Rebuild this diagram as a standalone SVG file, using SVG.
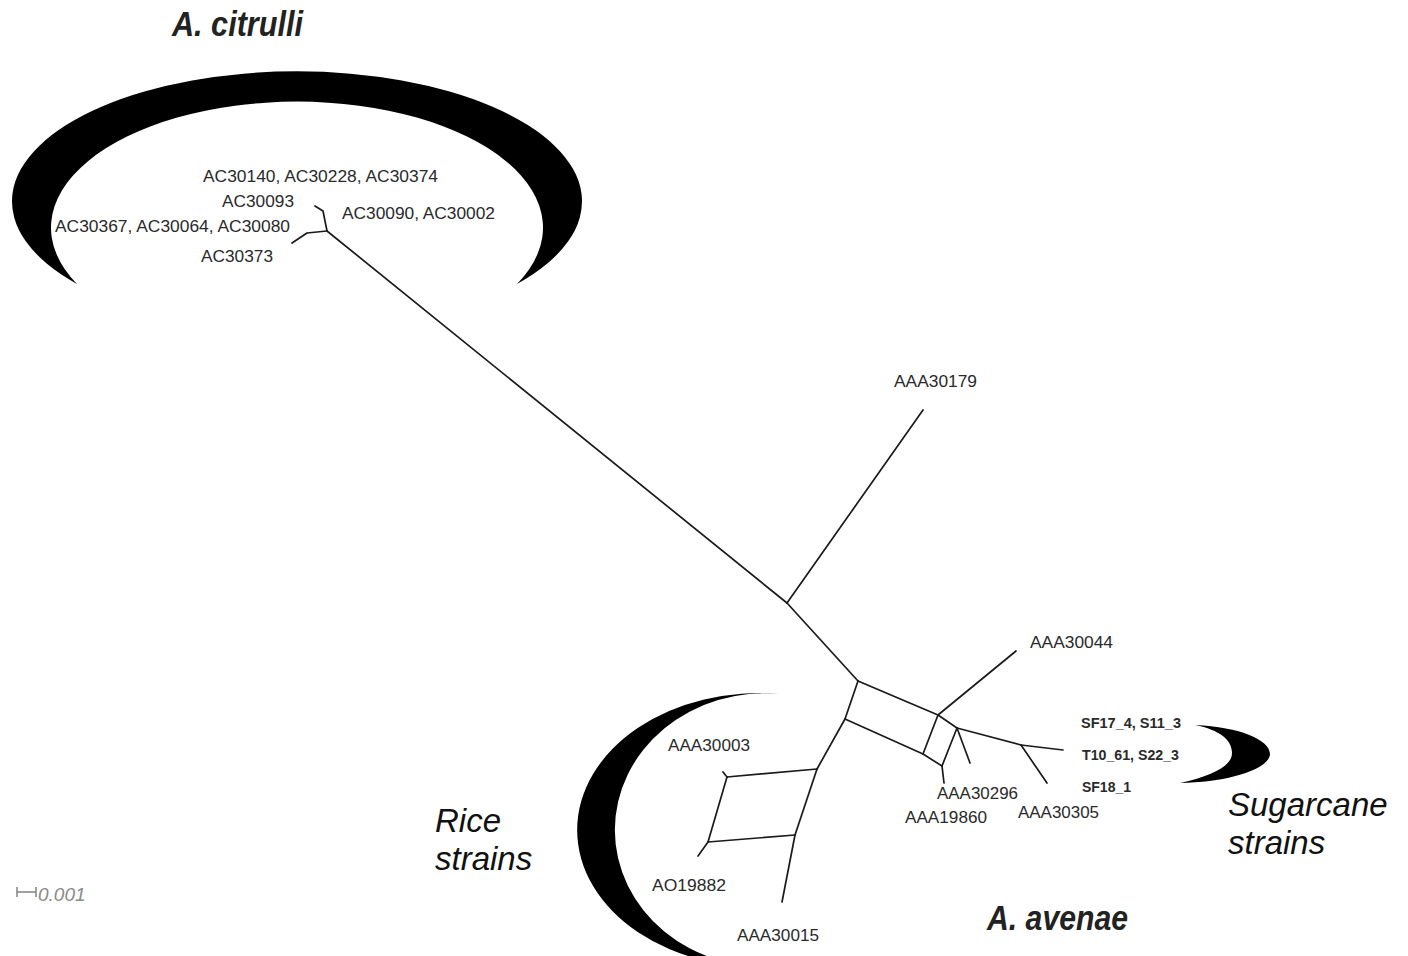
<svg xmlns="http://www.w3.org/2000/svg" width="1408" height="956" viewBox="0 0 1408 956">
<style>
.bg{fill:#ffffff}
.cres{fill:#000000}
.br{stroke:#1a1a1a;stroke-width:1.7;fill:none;stroke-linecap:round;stroke-linejoin:round}
.lab{font-family:"Liberation Sans",Arial,sans-serif;font-size:16px;fill:#2a2a2a}
.sug{font-family:"Liberation Sans",Arial,sans-serif;font-size:14px;font-weight:bold;fill:#2a2a2a}
.title{font-family:"Liberation Sans",Arial,sans-serif;font-size:35px;font-weight:bold;font-style:italic;fill:#222222}
.grp{font-family:"Liberation Sans",Arial,sans-serif;font-size:33px;font-style:italic;fill:#111111}
.scale{font-family:"Liberation Sans",Arial,sans-serif;font-size:19px;font-style:italic;fill:#8a8a8a}
</style>
<rect class="bg" x="0" y="0" width="1408" height="956"/>

<g id="crescent-citrulli">
<path class="cres" d="M77,284 A285,130 0 1 1 517,284 A246,126 0 1 0 77,284 Z"/>
</g>
<g id="crescent-rice">
<path class="cres" d="M780,694 A182,136.9 0 1 0 780,966 A150,136.7 0 1 1 780,694 Z"/>
</g>
<g id="crescent-sugarcane">
<path class="cres" d="M1195,725 C1240,727 1270,740 1270,754 C1270,768 1232,782 1180,783 C1212,776 1232,766 1232,753 C1232,740 1220,730 1195,725 Z"/>
</g>

<g id="connectors">
<polyline class="br" points="315,206 323,211 327,231"/>
<polyline class="br" points="292,243 307,233 327,231"/>
<line class="br" x1="327" y1="231" x2="787" y2="603"/>
<line class="br" x1="787" y1="603" x2="923" y2="410"/>
<line class="br" x1="787" y1="603" x2="858" y2="681"/>
<line class="br" x1="858" y1="681" x2="938" y2="715"/>
<line class="br" x1="858" y1="681" x2="845" y2="719"/>
<line class="br" x1="845" y1="719" x2="923" y2="754"/>
<line class="br" x1="938" y1="715" x2="923" y2="754"/>
<line class="br" x1="938" y1="715" x2="957" y2="728"/>
<line class="br" x1="938" y1="715" x2="1016" y2="651"/>
<line class="br" x1="957" y1="728" x2="1021" y2="745"/>
<line class="br" x1="1021" y1="745" x2="1063" y2="750"/>
<line class="br" x1="1021" y1="745" x2="1047" y2="783"/>
<line class="br" x1="957" y1="728" x2="970" y2="763"/>
<line class="br" x1="923" y1="754" x2="942" y2="766"/>
<line class="br" x1="957" y1="728" x2="942" y2="766"/>
<line class="br" x1="942" y1="766" x2="944" y2="783"/>
<line class="br" x1="845" y1="719" x2="817" y2="769"/>
<line class="br" x1="817" y1="769" x2="795" y2="835"/>
<line class="br" x1="795" y1="835" x2="782" y2="902"/>
<line class="br" x1="817" y1="769" x2="727" y2="777"/>
<line class="br" x1="727" y1="777" x2="723" y2="772"/>
<line class="br" x1="795" y1="835" x2="708" y2="842"/>
<line class="br" x1="708" y1="842" x2="698" y2="856"/>
<line class="br" x1="727" y1="777" x2="708" y2="842"/>
</g>

<g id="label-AC30140"><text class="lab" x="203" y="182" textLength="235" lengthAdjust="spacingAndGlyphs">AC30140, AC30228, AC30374</text></g>
<g id="label-AC30093"><text class="lab" x="222" y="207" textLength="72" lengthAdjust="spacingAndGlyphs">AC30093</text></g>
<g id="label-AC30090"><text class="lab" x="342" y="219" textLength="153" lengthAdjust="spacingAndGlyphs">AC30090, AC30002</text></g>
<g id="label-AC30367"><text class="lab" x="55" y="232" textLength="235" lengthAdjust="spacingAndGlyphs">AC30367, AC30064, AC30080</text></g>
<g id="label-AC30373"><text class="lab" x="201" y="262" textLength="72" lengthAdjust="spacingAndGlyphs">AC30373</text></g>
<g id="label-AAA30179"><text class="lab" x="894" y="387" textLength="83" lengthAdjust="spacingAndGlyphs">AAA30179</text></g>
<g id="label-AAA30044"><text class="lab" x="1030" y="648" textLength="83" lengthAdjust="spacingAndGlyphs">AAA30044</text></g>
<g id="label-SF17_4"><text class="sug" x="1081" y="728" textLength="100" lengthAdjust="spacingAndGlyphs">SF17_4, S11_3</text></g>
<g id="label-T10_61"><text class="sug" x="1082" y="760" textLength="97" lengthAdjust="spacingAndGlyphs">T10_61, S22_3</text></g>
<g id="label-SF18_1"><text class="sug" x="1082" y="792" textLength="49" lengthAdjust="spacingAndGlyphs">SF18_1</text></g>
<g id="label-AAA30296"><text class="lab" x="937" y="799" textLength="81" lengthAdjust="spacingAndGlyphs">AAA30296</text></g>
<g id="label-AAA19860"><text class="lab" x="905" y="823" textLength="82" lengthAdjust="spacingAndGlyphs">AAA19860</text></g>
<g id="label-AAA30305"><text class="lab" x="1018" y="818" textLength="81" lengthAdjust="spacingAndGlyphs">AAA30305</text></g>
<g id="label-AAA30003"><text class="lab" x="668" y="751" textLength="82" lengthAdjust="spacingAndGlyphs">AAA30003</text></g>
<g id="label-AO19882"><text class="lab" x="652" y="891" textLength="74" lengthAdjust="spacingAndGlyphs">AO19882</text></g>
<g id="label-AAA30015"><text class="lab" x="737" y="941" textLength="82" lengthAdjust="spacingAndGlyphs">AAA30015</text></g>

<g id="title-citrulli"><text class="title" x="172" y="36" textLength="131" lengthAdjust="spacingAndGlyphs">A. citrulli</text></g>
<g id="title-avenae"><text class="title" x="987" y="930" textLength="141" lengthAdjust="spacingAndGlyphs">A. avenae</text></g>
<g id="group-rice">
<text class="grp" x="435" y="832">Rice</text>
<text class="grp" x="435" y="870">strains</text>
</g>
<g id="group-sugarcane">
<text class="grp" x="1228" y="816">Sugarcane</text>
<text class="grp" x="1228" y="854">strains</text>
</g>

<g id="scale-bar">
<line x1="17" y1="892" x2="36" y2="892" stroke="#8a8a8a" stroke-width="1.6"/>
<line x1="17" y1="887" x2="17" y2="897" stroke="#8a8a8a" stroke-width="1.6"/>
<line x1="36" y1="887" x2="36" y2="897" stroke="#8a8a8a" stroke-width="1.6"/>
<text class="scale" x="38" y="901">0.001</text>
</g>
</svg>
